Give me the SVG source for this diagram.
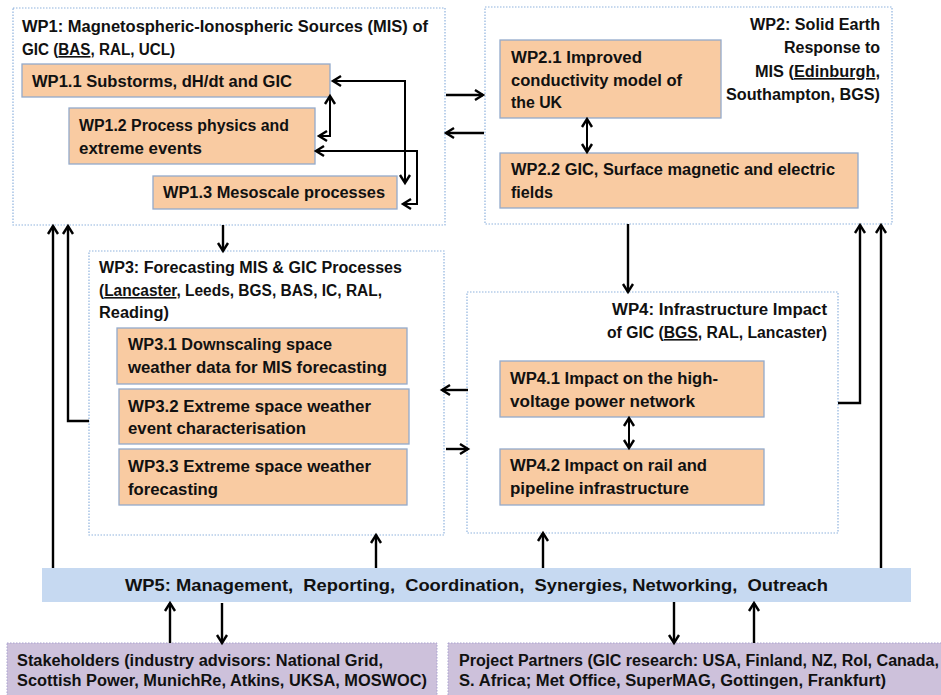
<svg xmlns="http://www.w3.org/2000/svg" width="941" height="695" viewBox="0 0 941 695">
<defs>
<marker id="ah" markerUnits="userSpaceOnUse" markerWidth="14" markerHeight="14" viewBox="0 0 14 14" refX="11" refY="7" orient="auto-start-reverse">
<path d="M3,2 L11,7 L3,12" fill="none" stroke="#000" stroke-width="2.4" stroke-linejoin="miter"/>
</marker>
</defs>
<style>
text{font-family:"Liberation Sans",Arial,sans-serif;font-weight:bold;font-size:16px;fill:#111111;}
.big{font-size:17px;}
.wp{fill:#ffffff;stroke:#8fb3de;stroke-width:1.2;stroke-dasharray:1.5 1.5;}
.sub{fill:#f9cba2;stroke:#93aacb;stroke-width:1.3;}
.mgmt{fill:#c6d9f1;stroke:none;}
.ext{fill:#cdc1db;stroke:#a9a2cf;stroke-width:1;stroke-dasharray:1.5 1.5;}
.c{fill:none;stroke:#000;stroke-width:2.4;}
.ci{fill:none;stroke:#000;stroke-width:2;}
.u{text-decoration:underline;}
</style>
<rect width="941" height="695" fill="#ffffff"/>

<g id="wp1">
<rect class="wp" x="13" y="8" width="432" height="217"/>
<text x="22" y="32" textLength="406" lengthAdjust="spacingAndGlyphs">WP1: Magnetospheric-Ionospheric Sources (MIS) of</text>
<text x="22" y="55" textLength="153" lengthAdjust="spacingAndGlyphs">GIC (<tspan class="u">BAS</tspan>, RAL, UCL)</text>
</g>
<g id="wp1-1">
<rect class="sub" x="22" y="64" width="308" height="33"/>
<text x="32" y="87" textLength="260" lengthAdjust="spacingAndGlyphs">WP1.1 Substorms, dH/dt and GIC</text>
</g>
<g id="wp1-2">
<rect class="sub" x="69" y="108" width="246" height="56"/>
<text x="79" y="131" textLength="210" lengthAdjust="spacingAndGlyphs">WP1.2 Process physics and</text>
<text x="79" y="154" textLength="123" lengthAdjust="spacingAndGlyphs">extreme events</text>
</g>
<g id="wp1-3">
<rect class="sub" x="153" y="176" width="244" height="33"/>
<text x="163" y="198" textLength="222" lengthAdjust="spacingAndGlyphs">WP1.3 Mesoscale processes</text>
</g>

<g id="wp2">
<rect class="wp" x="485" y="7" width="407" height="217"/>
<text x="880" y="30" text-anchor="end" textLength="130" lengthAdjust="spacingAndGlyphs">WP2: Solid Earth</text>
<text x="880" y="53" text-anchor="end" textLength="96" lengthAdjust="spacingAndGlyphs">Response to</text>
<text x="880" y="77" text-anchor="end" textLength="125" lengthAdjust="spacingAndGlyphs">MIS (<tspan class="u">Edinburgh</tspan>,</text>
<text x="880" y="100" text-anchor="end" textLength="154" lengthAdjust="spacingAndGlyphs">Southampton, BGS)</text>
</g>
<g id="wp2-1">
<rect class="sub" x="500" y="40" width="221" height="78"/>
<text x="511" y="63" textLength="131" lengthAdjust="spacingAndGlyphs">WP2.1 Improved</text>
<text x="511" y="86" textLength="171" lengthAdjust="spacingAndGlyphs">conductivity model of</text>
<text x="511" y="108" textLength="51" lengthAdjust="spacingAndGlyphs">the UK</text>
</g>
<g id="wp2-2">
<rect class="sub" x="500" y="153" width="358" height="55"/>
<text x="511" y="175" textLength="324" lengthAdjust="spacingAndGlyphs">WP2.2 GIC, Surface magnetic and electric</text>
<text x="511" y="198" textLength="42" lengthAdjust="spacingAndGlyphs">fields</text>
</g>

<g id="wp3">
<rect class="wp" x="89" y="251" width="355" height="284"/>
<text x="99" y="273" textLength="303" lengthAdjust="spacingAndGlyphs">WP3: Forecasting MIS &amp; GIC Processes</text>
<text x="99" y="296" textLength="283" lengthAdjust="spacingAndGlyphs">(<tspan class="u">Lancaster</tspan>, Leeds, BGS, BAS, IC, RAL,</text>
<text x="99" y="318" textLength="70" lengthAdjust="spacingAndGlyphs">Reading)</text>
</g>
<g id="wp3-1">
<rect class="sub" x="117" y="328" width="290" height="56"/>
<text x="128" y="350" textLength="204" lengthAdjust="spacingAndGlyphs">WP3.1 Downscaling space</text>
<text x="128" y="373" textLength="259" lengthAdjust="spacingAndGlyphs">weather data for MIS forecasting</text>
</g>
<g id="wp3-2">
<rect class="sub" x="119" y="389" width="290" height="55"/>
<text x="128" y="412" textLength="243" lengthAdjust="spacingAndGlyphs">WP3.2 Extreme space weather</text>
<text x="128" y="434" textLength="178" lengthAdjust="spacingAndGlyphs">event characterisation</text>
</g>
<g id="wp3-3">
<rect class="sub" x="119" y="449" width="288" height="56"/>
<text x="128" y="472" textLength="243" lengthAdjust="spacingAndGlyphs">WP3.3 Extreme space weather</text>
<text x="128" y="495" textLength="90" lengthAdjust="spacingAndGlyphs">forecasting</text>
</g>

<g id="wp4">
<rect class="wp" x="467" y="292" width="371" height="241"/>
<text x="827" y="315" text-anchor="end" textLength="215" lengthAdjust="spacingAndGlyphs">WP4: Infrastructure Impact</text>
<text x="827" y="338" text-anchor="end" textLength="220" lengthAdjust="spacingAndGlyphs">of GIC (<tspan class="u">BGS</tspan>, RAL, Lancaster)</text>
</g>
<g id="wp4-1">
<rect class="sub" x="500" y="361" width="264" height="56"/>
<text x="510" y="384" textLength="208" lengthAdjust="spacingAndGlyphs">WP4.1 Impact on the high-</text>
<text x="510" y="407" textLength="185" lengthAdjust="spacingAndGlyphs">voltage power network</text>
</g>
<g id="wp4-2">
<rect class="sub" x="500" y="449" width="264" height="56"/>
<text x="510" y="471" textLength="197" lengthAdjust="spacingAndGlyphs">WP4.2 Impact on rail and</text>
<text x="510" y="494" textLength="179" lengthAdjust="spacingAndGlyphs">pipeline infrastructure</text>
</g>

<g id="wp5">
<rect class="mgmt" x="42" y="568" width="869" height="34"/>
<text class="big" x="125" y="591" textLength="703" lengthAdjust="spacingAndGlyphs" style="white-space:pre">WP5: Management,  Reporting,  Coordination,  Synergies, Networking,  Outreach</text>
</g>

<g id="stakeholders">
<rect class="ext" x="7" y="643" width="430" height="60"/>
<text x="17" y="666" textLength="366" lengthAdjust="spacingAndGlyphs">Stakeholders (industry advisors: National Grid,</text>
<text x="17" y="686" textLength="410" lengthAdjust="spacingAndGlyphs">Scottish Power, MunichRe, Atkins, UKSA, MOSWOC)</text>
</g>
<g id="partners">
<rect class="ext" x="448" y="643" width="500" height="60"/>
<text x="459" y="666" textLength="480" lengthAdjust="spacingAndGlyphs">Project Partners (GIC research: USA, Finland, NZ, RoI, Canada,</text>
<text x="459" y="686" textLength="427" lengthAdjust="spacingAndGlyphs">S. Africa; Met Office, SuperMAG, Gottingen, Frankfurt)</text>
</g>

<g id="connectors">
<path class="c" d="M446,95 H483" marker-end="url(#ah)"/>
<path class="c" d="M484,133 H446" marker-end="url(#ah)"/>
<path class="c" d="M223,225 V251" marker-end="url(#ah)"/>
<path class="c" d="M628,224 V292" marker-end="url(#ah)"/>
<path class="c" d="M468,390 H442" marker-end="url(#ah)"/>
<path class="c" d="M446,449 H468" marker-end="url(#ah)"/>
<path class="c" d="M89,421 H68 V226" marker-end="url(#ah)"/>
<path class="c" d="M53,568 V226" marker-end="url(#ah)"/>
<path class="c" d="M838,403 H860 V225" marker-end="url(#ah)"/>
<path class="c" d="M881,568 V225" marker-end="url(#ah)"/>
<path class="c" d="M376,568 V535" marker-end="url(#ah)"/>
<path class="c" d="M543,568 V533" marker-end="url(#ah)"/>
<path class="c" d="M170,643 V603" marker-end="url(#ah)"/>
<path class="c" d="M222,603 V643" marker-end="url(#ah)"/>
<path class="c" d="M674,602 V643" marker-end="url(#ah)"/>
<path class="c" d="M754,643 V603" marker-end="url(#ah)"/>
<path class="ci" d="M587,119 V152" marker-start="url(#ah)" marker-end="url(#ah)"/>
<path class="ci" d="M629,418 V448" marker-start="url(#ah)" marker-end="url(#ah)"/>
<path class="ci" d="M333,81 H405 V183" marker-start="url(#ah)" marker-end="url(#ah)"/>
<path class="ci" d="M330,96 V136 H319" marker-start="url(#ah)" marker-end="url(#ah)"/>
<path class="ci" d="M316,151 H417 V204 H403" marker-start="url(#ah)" marker-end="url(#ah)"/>
</g>
</svg>
